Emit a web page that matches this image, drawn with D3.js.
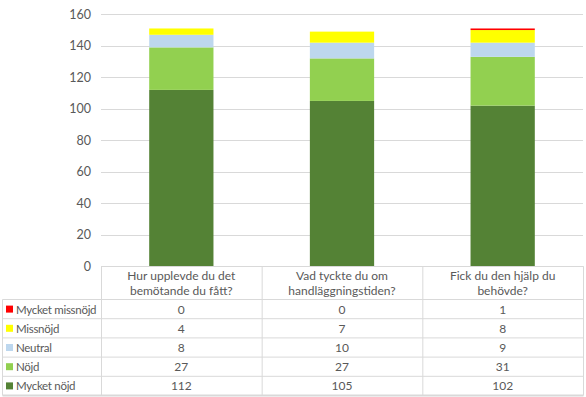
<!DOCTYPE html>
<html>
<head>
<meta charset="utf-8">
<script src="https://cdn.jsdelivr.net/npm/d3@7"></script>
<style>
  body { margin: 0; background: #fff; }
  text { font-family: Lato, "Liberation Sans", sans-serif; fill: #595959; }
</style>
</head>
<body>
<script>
var width = 586;
var height = 397;

// data
var categories = [
    ["Hur upplevde du det", "bemötande du fått?"],
    ["Vad tyckte du om", "handläggningstiden?"],
    ["Fick du den hjälp du", "behövde?"]
];
var seriesNames = ["Mycket missnöjd", "Missnöjd", "Neutral", "Nöjd", "Mycket nöjd"];
var seriesColors = ["#ff0000", "#ffff00", "#bdd7ee", "#92d050", "#548235"];
var mycketMissnojd = [0, 0, 1];
var missnojd = [4, 7, 8];
var neutral = [8, 10, 9];
var nojd = [27, 27, 31];
var mycketNojd = [112, 105, 102];
var yTicks = [0, 20, 40, 60, 80, 100, 120, 140, 160];

var seriesValues = [mycketMissnojd, missnojd, neutral, nojd, mycketNojd];

var rows = d3.range(categories.length).map(function(i){
    var r = { idx: i };
    seriesNames.forEach(function(s, j){ r[s] = seriesValues[j][i]; });
    return r;
});

var stackKeys = seriesNames.slice().reverse();
var stacked = d3.stack().keys(stackKeys)(rows);

var plotLeft = 101, plotRight = 583, plotTop = 14.3, plotBottom = 266.3;

var xScale = d3.scaleBand()
    .domain(d3.range(categories.length))
    .range([plotLeft, plotRight])
    .paddingInner(0)
    .paddingOuter(0);

var yScale = d3.scaleLinear()
    .domain([0, 160])
    .range([plotBottom, plotTop]);

var svg = d3.select("body").append("svg")
    .attr("width", width)
    .attr("height", height);

// gridlines
svg.append("g").selectAll("line")
    .data(yTicks.filter(function(d){ return d > 0; }))
    .enter().append("line")
    .attr("x1", plotLeft).attr("x2", plotRight)
    .attr("y1", function(d){ return Math.round(yScale(d)) + 0.5; })
    .attr("y2", function(d){ return Math.round(yScale(d)) + 0.5; })
    .attr("stroke", "#d9d9d9").attr("stroke-width", 1);

// y labels
svg.append("g").selectAll("text")
    .data(yTicks)
    .enter().append("text")
    .attr("x", 91)
    .attr("y", function(d){ return yScale(d) + 4.5; })
    .attr("text-anchor", "end")
    .style("font-size", "12.5px")
    .text(function(d){ return d; });

// bars
var bw = xScale.bandwidth() * 0.4;
svg.append("g").selectAll("g")
    .data(stacked)
    .enter().append("g")
    .attr("fill", function(d){ return seriesColors[seriesNames.indexOf(d.key)]; })
    .selectAll("rect")
    .data(function(d){ return d; })
    .enter().append("rect")
    .attr("x", function(d){ return xScale(d.data.idx) + (xScale.bandwidth() - bw) / 2; })
    .attr("width", bw)
    .attr("y", function(d){ return yScale(d[1]); })
    .attr("height", function(d){ return yScale(d[0]) - yScale(d[1]); });

// data table
var headerBottom = 299.5;
var rowH = 19.2;
var tableLeft = 2.5;
var grid = svg.append("g").attr("stroke", "#d9d9d9").attr("stroke-width", 1);

// vertical lines in header + table
xScale.domain().concat([categories.length]).forEach(function(i){
    var x = (i < categories.length ? xScale(i) : plotRight) + 0.5;
    grid.append("line")
        .attr("x1", x).attr("x2", x)
        .attr("y1", plotBottom).attr("y2", headerBottom + rowH * 5);
});
grid.append("line")
    .attr("x1", tableLeft).attr("x2", tableLeft)
    .attr("y1", headerBottom).attr("y2", headerBottom + rowH * 5);

// horizontal lines
grid.append("line")
    .attr("x1", plotLeft).attr("x2", plotRight + 0.5)
    .attr("y1", Math.round(plotBottom) + 0.5).attr("y2", Math.round(plotBottom) + 0.5);
d3.range(6).forEach(function(k){
    var y = headerBottom + rowH * k;
    grid.append("line")
        .attr("x1", tableLeft).attr("x2", plotRight + 0.5)
        .attr("y1", y).attr("y2", y)
        .attr("stroke-width", k === 5 ? 2 : 1);
});

// header labels
categories.forEach(function(lines, i){
    var t = svg.append("text")
        .attr("x", xScale(i) + xScale.bandwidth() / 2)
        .attr("y", 279.5)
        .attr("text-anchor", "middle")
        .style("font-size", "12px");
    lines.forEach(function(l, k){
        t.append("tspan")
            .attr("x", xScale(i) + xScale.bandwidth() / 2)
            .attr("dy", k === 0 ? 0 : 15)
            .text(l);
    });
});

// rows
seriesNames.forEach(function(s, j){
    var yMid = headerBottom + rowH * j + rowH / 2;
    svg.append("rect")
        .attr("x", 6).attr("y", yMid - 3.5)
        .attr("width", 7).attr("height", 7)
        .attr("fill", seriesColors[j]);
    svg.append("text")
        .attr("x", 16).attr("y", yMid + 4.5)
        .style("font-size", "11.5px")
        .style("letter-spacing", "-0.3px")
        .text(s);
    seriesValues[j].forEach(function(v, i){
        svg.append("text")
            .attr("x", xScale(i) + xScale.bandwidth() / 2)
            .attr("y", yMid + 4.5)
            .attr("text-anchor", "middle")
            .style("font-size", "12px")
            .text(v);
    });
});
</script>
</body>
</html>
